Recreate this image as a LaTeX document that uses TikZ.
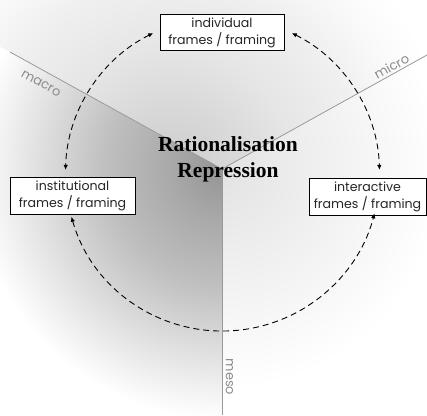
\documentclass[tikz,border=0pt]{standalone}
\usepackage{fontspec}
\setmainfont{Liberation Serif}
\newfontfamily\boxfont{Poppins}
\usetikzlibrary{arrows.meta,calc}

% radial fades for the three sectors (25bp = path radius = 400pt, so 1bp = 16pt)
\pgfdeclareradialshading{macroshade}{\pgfpointorigin}{%
  color(0bp)=(black!42); color(3.1bp)=(black!34); color(7.3bp)=(black!25);
  color(11.25bp)=(black!13); color(13.9bp)=(black!5); color(15.6bp)=(white); color(50bp)=(white)}
\pgfdeclareradialshading{topshade}{\pgfpointorigin}{%
  color(0bp)=(black!20); color(4.1bp)=(black!15); color(7.6bp)=(black!10);
  color(11.9bp)=(black!6); color(15bp)=(black!2); color(17.5bp)=(white); color(50bp)=(white)}
\pgfdeclareradialshading{microshade}{\pgfpointorigin}{%
  color(0bp)=(black!11); color(5bp)=(black!7); color(10bp)=(black!3);
  color(13.75bp)=(white); color(50bp)=(white)}

\begin{document}
\begin{tikzpicture}[x=1pt,y=1pt,
  framebox/.style={draw=black, line width=1pt, fill=white, align=center,
    font=\boxfont\fontsize{12.6}{16.5}\selectfont, inner sep=0pt,
    minimum height=36pt, text=black!85},
  divider/.style={draw=black!40, line width=0.8pt},
  level/.style={text=black!45, font=\boxfont\fontsize{13}{15}\selectfont, inner sep=0pt},
  link/.style={draw=black, line width=0.9pt, dash pattern=on 6pt off 4pt,
    {Latex[length=5pt,width=4.5pt]}-{Latex[length=5pt,width=4.5pt]}},
]
\useasboundingbox (0,0) rectangle (427,415);
\fill[white] (0,0) rectangle (427,415);

\coordinate (C) at (222,246);
\coordinate (macroEnd) at (10,363);
\coordinate (microEnd) at (427,360);
\coordinate (mesoEnd) at (222,0);

% shaded sectors
\begin{scope}
  \clip (C) -- (-50,396) -- (-50,-50) -- (222,-50) -- cycle;
  \shade[shading=macroshade] (C) circle (400);
\end{scope}
\begin{scope}
  \clip (C) -- (-50,396) -- (-50,465) -- (477,465) -- (477,388) -- cycle;
  \shade[shading=topshade] (170,245) circle (400);
\end{scope}
\begin{scope}
  \clip (C) -- (477,388) -- (477,-50) -- (222,-50) -- cycle;
  \shade[shading=microshade] (C) circle (400);
\end{scope}

% sector dividers
\draw[divider] (C) -- (macroEnd);
\draw[divider] (C) -- (microEnd);
\draw[divider] (C) -- (mesoEnd);

\node[level, rotate=-29] (macro) at (41,331.5) {macro};
\node[level, rotate=29] (micro) at (391.5,348.5) {micro};
\node[level, rotate=-90] (meso) at (229.5,38) {meso};

% central labels
\node[font=\bfseries\fontsize{21.5}{25.5}\selectfont, align=center] (core) at (228,255.5)
  {Rationalisation\\Repression};

% framing boxes
\node[framebox, minimum width=124pt] (individual) at (222,382) {individual\\frames / framing};
\node[framebox, minimum width=125pt] (institutional) at (72.5,219) {institutional\\frames / framing};
\node[framebox, minimum width=117pt] (interactive) at (367.5,218) {interactive\\frames / framing};

% dashed arcs on the circle
\coordinate (O) at (222.5,241);
\coordinate (tl) at ($(O)+(116.2:157)$);
\coordinate (tr) at ($(O)+(63.8:157)$);
\coordinate (bl) at ($(O)+(195.8:157)$);
\draw[link] (tl) arc[start angle=116.2, end angle=178.5, radius=157];
\draw[link] (tr) arc[start angle=63.8, end angle=1.5, radius=157];
\draw[link] (bl) arc[start angle=195.8, end angle=345.5, radius=157];
\end{tikzpicture}
\end{document}
